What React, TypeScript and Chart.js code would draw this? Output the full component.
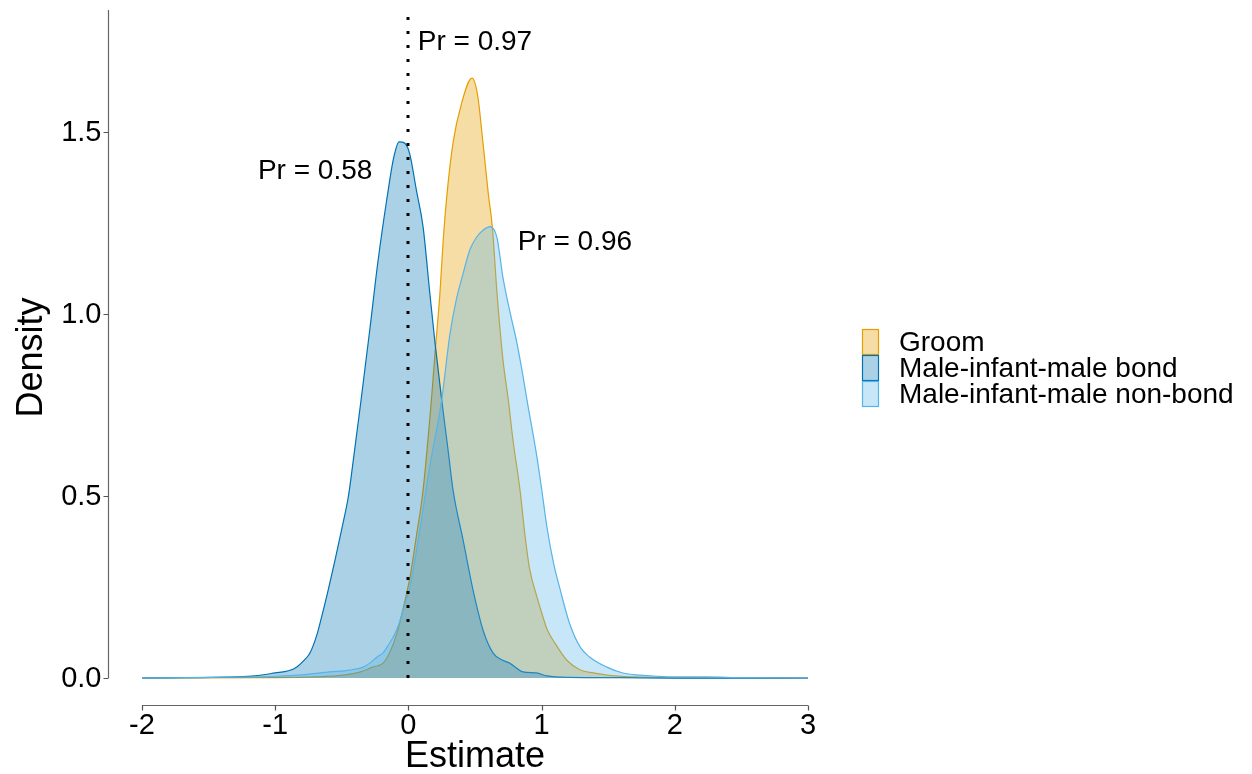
import React, { useEffect, useRef } from "react";
import { Chart, registerables } from "chart.js";

Chart.register(...registerables);

// ---- data ----
const seriesNames = ["Groom", "Male-infant-male bond", "Male-infant-male non-bond"];

const groomX = [-2.0, -1.0, -0.7, -0.49, -0.36, -0.27, -0.19, -0.14, -0.085, -0.04, 0.012, 0.06, 0.11, 0.177, 0.2, 0.237, 0.26, 0.29, 0.335, 0.4, 0.477, 0.52, 0.56, 0.6, 0.63, 0.665, 0.71, 0.75, 0.785, 0.838, 0.876, 0.91, 0.965, 1.0, 1.04, 1.1, 1.19, 1.29, 1.39, 1.49, 1.7, 2.0, 3.0];
const groomY = [0, 0.001, 0.003, 0.008, 0.017, 0.03, 0.041, 0.07, 0.124, 0.19, 0.277, 0.39, 0.516, 0.783, 0.893, 1.058, 1.195, 1.33, 1.47, 1.58, 1.648, 1.6, 1.47, 1.33, 1.24, 1.058, 0.874, 0.764, 0.654, 0.516, 0.39, 0.3, 0.223, 0.18, 0.135, 0.096, 0.049, 0.022, 0.014, 0.008, 0.003, 0.001, 0];

const bondX = [-2.0, -1.6, -1.3, -1.15, -1.0, -0.9, -0.84, -0.78, -0.74, -0.69, -0.65, -0.6, -0.55, -0.5, -0.45, -0.42, -0.36, -0.29, -0.23, -0.16, -0.11, -0.07, -0.03, 0.01, 0.06, 0.11, 0.16, 0.2, 0.25, 0.3, 0.335, 0.41, 0.485, 0.56, 0.635, 0.7, 0.76, 0.86, 0.96, 1.04, 1.2, 1.6, 2.0, 3.0];
const bondY = [0, 0.001, 0.003, 0.006, 0.014, 0.02, 0.03, 0.05, 0.068, 0.115, 0.17, 0.245, 0.325, 0.41, 0.5, 0.58, 0.75, 0.956, 1.14, 1.32, 1.43, 1.473, 1.47, 1.44, 1.34, 1.24, 1.06, 0.92, 0.764, 0.62, 0.516, 0.38, 0.242, 0.132, 0.069, 0.05, 0.041, 0.017, 0.014, 0.006, 0.002, 0.001, 0, 0];

const nonBondX = [-2.0, -1.5, -1.0, -0.8, -0.59, -0.44, -0.34, -0.29, -0.235, -0.19, -0.16, -0.085, -0.01, 0.012, 0.087, 0.16, 0.25, 0.31, 0.36, 0.41, 0.46, 0.51, 0.56, 0.613, 0.665, 0.71, 0.76, 0.815, 0.86, 0.89, 0.965, 1.0, 1.04, 1.09, 1.14, 1.21, 1.29, 1.36, 1.49, 1.61, 1.74, 1.86, 2.0, 2.24, 2.5, 3.0];
const nonBondY = [0, 0.002, 0.005, 0.009, 0.017, 0.022, 0.03, 0.041, 0.058, 0.069, 0.085, 0.135, 0.223, 0.25, 0.41, 0.58, 0.764, 0.94, 1.04, 1.11, 1.175, 1.21, 1.23, 1.24, 1.21, 1.1, 1.01, 0.92, 0.83, 0.764, 0.607, 0.52, 0.415, 0.315, 0.242, 0.15, 0.085, 0.058, 0.03, 0.014, 0.008, 0.005, 0.003, 0.003, 0.001, 0];

const xTickValues = [-2, -1, 0, 1, 2, 3];
const xTickLabels = ["-2", "-1", "0", "1", "2", "3"];
const yTickValues = [0, 0.5, 1, 1.5];
const yTickLabels = ["0.0", "0.5", "1.0", "1.5"];

const annotationTexts = ["Pr = 0.97", "Pr = 0.58", "Pr = 0.96"];
const annotationX = [0.07, -0.7, 1.25];
const annotationY = [1.745, 1.393, 1.198];
const annotationAlign = ["left", "center", "center"];

const refLineX = 0;
const refLineTop = 1.82;

// ---- styles ----
const lineColors = ["#E69F00", "#0072B2", "#56B4E9"];
const fillColors = ["rgba(230,159,0,0.35)", "rgba(0,114,178,0.33)", "rgba(86,180,233,0.33)"];
const FONT = "'Liberation Sans', Arial, sans-serif";

function toPoints(xs: number[], ys: number[]) {
  return xs.map((x, i) => ({ x, y: ys[i] }));
}

const overlayPlugin = {
  id: "overlay",
  afterDatasetsDraw(chart: any) {
    const ctx = chart.ctx as CanvasRenderingContext2D;
    const xs = chart.scales.x;
    const ys = chart.scales.y;
    const area = chart.chartArea;
    ctx.save();

    // dotted reference segment
    ctx.strokeStyle = "#000";
    ctx.lineWidth = 3;
    ctx.setLineDash([3, 11]);
    ctx.lineCap = "butt";
    ctx.beginPath();
    const rx = Math.round(xs.getPixelForValue(refLineX));
    ctx.moveTo(rx, ys.getPixelForValue(0));
    ctx.lineTo(rx, ys.getPixelForValue(refLineTop));
    ctx.stroke();
    ctx.setLineDash([]);

    // annotations
    ctx.fillStyle = "#000";
    ctx.font = `28px ${FONT}`;
    ctx.textBaseline = "middle";
    annotationTexts.forEach((t, i) => {
      ctx.textAlign = annotationAlign[i] as CanvasTextAlign;
      ctx.fillText(t, xs.getPixelForValue(annotationX[i]), ys.getPixelForValue(annotationY[i]));
    });

    // axes (capped)
    ctx.strokeStyle = "#666";
    ctx.lineWidth = 1.2;
    const axisY = area.bottom + 0.5;
    const axisX = area.left + 0.5;
    ctx.beginPath();
    ctx.moveTo(xs.getPixelForValue(xTickValues[0]), axisY);
    ctx.lineTo(xs.getPixelForValue(xTickValues[xTickValues.length - 1]), axisY);
    ctx.moveTo(axisX, ys.getPixelForValue(yTickValues[0]));
    ctx.lineTo(axisX, area.top);
    ctx.stroke();

    // ticks
    ctx.strokeStyle = "#555";
    ctx.beginPath();
    xTickValues.forEach((v) => {
      const p = Math.round(xs.getPixelForValue(v)) + 0.5;
      ctx.moveTo(p, axisY);
      ctx.lineTo(p, axisY + 5);
    });
    yTickValues.forEach((v) => {
      const p = Math.round(ys.getPixelForValue(v)) + 0.5;
      ctx.moveTo(axisX, p);
      ctx.lineTo(axisX - 5, p);
    });
    ctx.stroke();

    ctx.fillStyle = "#000";
    ctx.font = `29px ${FONT}`;
    ctx.textAlign = "center";
    ctx.textBaseline = "top";
    xTickValues.forEach((v, i) => {
      ctx.fillText(xTickLabels[i], xs.getPixelForValue(v), axisY + 6);
    });
    ctx.textAlign = "right";
    ctx.textBaseline = "middle";
    yTickValues.forEach((v, i) => {
      ctx.fillText(yTickLabels[i], axisX - 7, ys.getPixelForValue(v) + 1);
    });

    // axis titles
    ctx.font = `36px ${FONT}`;
    ctx.textAlign = "center";
    ctx.textBaseline = "middle";
    ctx.fillText("Estimate", xs.getPixelForValue(0.5), 757);
    ctx.save();
    ctx.translate(32, (area.top + area.bottom) / 2);
    ctx.rotate(-Math.PI / 2);
    ctx.fillText("Density", 0, 0);
    ctx.restore();

    // legend
    const keyX = 862;
    const keyW = 17;
    const keyH = 26;
    const keyTop = 329;
    ctx.font = `28px ${FONT}`;
    ctx.textAlign = "left";
    ctx.textBaseline = "middle";
    seriesNames.forEach((name, i) => {
      const y0 = keyTop + i * keyH;
      ctx.fillStyle = "#fff";
      ctx.fillRect(keyX, y0, keyW, keyH);
      ctx.fillStyle = fillColors[i];
      ctx.fillRect(keyX, y0, keyW, keyH);
      ctx.strokeStyle = lineColors[i];
      ctx.lineWidth = 1.2;
      ctx.strokeRect(keyX + 0.5, y0 + 0.5, keyW - 1, keyH - 1);
      ctx.fillStyle = "#000";
      ctx.fillText(name, 899, y0 + keyH / 2 + 1);
    });

    ctx.restore();
  },
};

export default function App() {
  const ref = useRef<HTMLCanvasElement | null>(null);
  useEffect(() => {
    if (!ref.current) return;
    const seriesX = [groomX, bondX, nonBondX];
    const seriesY = [groomY, bondY, nonBondY];
    const chart = new Chart(ref.current, {
      type: "line",
      data: {
        datasets: seriesNames.map((name, i) => ({
          label: name,
          data: toPoints(seriesX[i], seriesY[i]),
          borderColor: lineColors[i],
          backgroundColor: fillColors[i],
          borderWidth: 1.2,
          fill: "origin",
          pointRadius: 0,
          order: seriesNames.length - i,
          cubicInterpolationMode: "monotone" as const,
        })),
      },
      options: {
        responsive: false,
        animation: false,
        layout: { padding: { left: 108, top: 10, right: 410, bottom: 69 } },
        scales: {
          x: { type: "linear", min: -2.255, max: 3.255, display: false },
          y: { type: "linear", min: -0.074, max: 1.835, display: false },
        },
        plugins: { legend: { display: false }, tooltip: { enabled: false } },
      },
      plugins: [overlayPlugin],
    });
    return () => chart.destroy();
  }, []);
  return (
    <div style={{ position: "absolute", left: 0, top: 0, width: 1252, height: 774, background: "#fff" }}>
      <canvas ref={ref} width={1252} height={774} style={{ display: "block" }} />
    </div>
  );
}
